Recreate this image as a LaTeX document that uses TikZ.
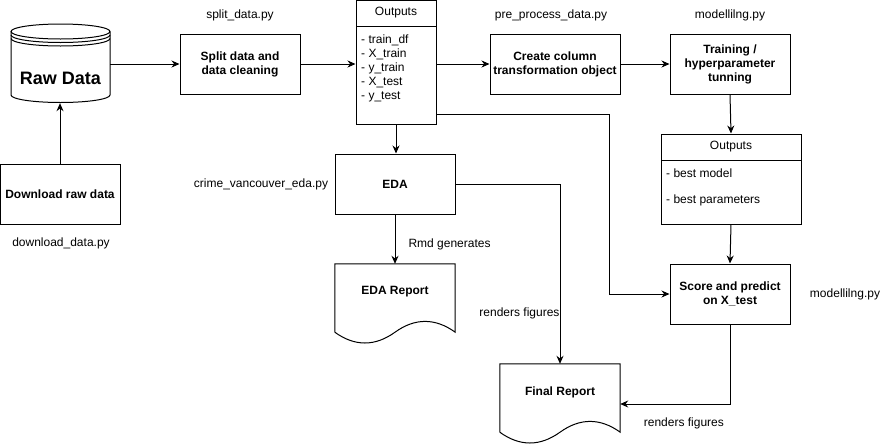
\documentclass[tikz,border=0pt]{standalone}
\usepackage{fontspec}
\setmainfont{Liberation Sans}
\usetikzlibrary{positioning,arrows.meta,calc}

\begin{document}
\begin{tikzpicture}[x=1pt, y=-1pt,
    line/.style={line width=1pt},
    flow/.style={line width=1pt, -{Stealth[length=8pt, width=7pt]}},
    box/.style={draw, line width=1pt, minimum width=120pt, minimum height=60pt, align=center, inner sep=2pt, font=\fontsize{12}{14}\selectfont\bfseries},
    doc/.style={minimum width=120pt, minimum height=56pt, inner sep=0pt, font=\fontsize{12}{14}\selectfont\bfseries},
    hdr/.style={draw, line width=1pt, minimum height=26pt, inner sep=0pt, font=\fontsize{12}{14}\selectfont},
    lst/.style={draw, line width=1pt},
    items/.style={align=left, inner sep=0pt, font=\fontsize{12}{14}\selectfont},
    script/.style={inner sep=0pt, font=\fontsize{12}{14}\selectfont}]
    \useasboundingbox (0,0) rectangle (886,445);

    % Raw data store
    \node[minimum width=99pt, minimum height=50pt, inner sep=0pt, font=\fontsize{18}{20}\selectfont\bfseries] (raw) at (60.5,78) {Raw Data};
    \draw[line] (11,31.5) -- (11,95) arc[start angle=180, end angle=0, x radius=49.5, y radius=7.5] -- (110,31.5);
    \draw[line] (60.5,31.5) ellipse[x radius=49.5, y radius=7.5];
    \foreach \dy in {3.5,7}
        \draw[line] (11,31.5+\dy) arc[start angle=180, end angle=0, x radius=49.5, y radius=7.5];

    % Boxes
    \node[box] (dl) at (60,194) {Download raw data};
    \node[box] (split) at (240,64) {Split data and\\data cleaning};
    \node[box] (eda) at (395,184) {EDA};
    \node[box, minimum width=130pt] (create) at (555,64) {Create column\\transformation object};
    \node[box] (train) at (730,64) {Training /\\hyperparameter\\tunning};
    \node[box] (score) at (730,294) {Score and predict\\on X\_test};

    % Outputs of the split step
    \node[hdr, minimum width=80pt] (out1) at (396,13) {Outputs};
    \node[lst, minimum width=80pt, minimum height=98pt] (out1b) at (396,75) {};
    \node[items, anchor=north west] (out1t) at (361,35)
        {- train\_df\\- X\_train\\- y\_train\\- X\_test\\- y\_test};

    % Outputs of the training step
    \node[hdr, minimum width=140pt] (out2) at (731,147) {Outputs};
    \node[lst, minimum width=140pt, minimum height=64pt] (out2b) at (731,192) {};
    \node[items, anchor=north west] (out2t) at (666,169)
        {- best model\\[12pt]- best parameters};

    % Reports
    \node[doc] (edarep) at (395,292) {EDA Report};
    \node[doc] (final) at (560,392) {Final Report};
    \foreach \d in {edarep,final}
        \draw[line] ($(\d.south west)+(0,12)$) -- (\d.north west) -- (\d.north east)
            -- ($(\d.south east)+(0,12)$)
            .. controls ($(\d.south east)+(-20,-2.4)$) and ($(\d.south)+(20,-2.4)$) .. ($(\d.south)+(0,12)$)
            .. controls ($(\d.south)+(-20,26.4)$) and ($(\d.south west)+(20,26.4)$) .. ($(\d.south west)+(0,12)$);

    % Script names
    \node[script] (dlpy) at (61,243) {download\_data.py};
    \node[script] (splitpy) at (240,15) {split\_data.py};
    \node[script] (edapy) at (261,184) {crime\_vancouver\_eda.py};
    \node[script] (prepy) at (551,15) {pre\_process\_data.py};
    \node[script] (modpy) at (730,15) {modellilng.py};
    \node[script] (modpyb) at (845,294) {modellilng.py};

    % Connectors
    \draw[flow] (dl.north) -- (dl.north |- raw.south);
    \draw[flow] (raw.east |- split.west) -- (split.west);
    \draw[flow] (split.east) -- (split.east -| out1b.west);
    \draw[flow] (create.west -| out1b.east) -- (create.west);
    \draw[flow] (create.east) -- (train.west);
    \draw[flow] (train.south) -- (out2.north);
    \draw[flow] (out2b.south) -- (score.north);
    \draw[flow] (out1b.south) -- (out1b.south |- eda.north);
    \draw[flow] (eda.south) -- (edarep.north) node[pos=0.6, right=13pt, script] {Rmd generates};
    \draw[flow] (eda.east) -| (final.north) node[pos=0.86, left, script] {renders figures};
    \coordinate (tap) at ($(out1b.south east)+(0,-10)$);
    \draw[flow] (tap) -| ([xshift=-60pt]score.west) -- (score.west);
    \draw[flow] (score.south) |- ([yshift=-12pt]final.east) node[pos=0.71, yshift=-19pt, script] {renders figures};
\end{tikzpicture}
\end{document}
